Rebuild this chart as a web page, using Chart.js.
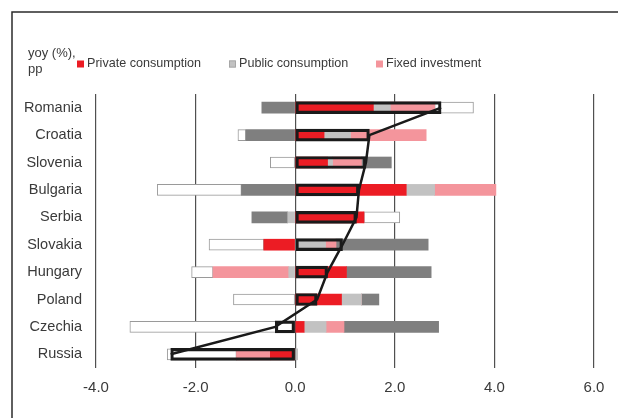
<!DOCTYPE html>
<html>
<head>
<meta charset="utf-8">
<script src="https://cdn.jsdelivr.net/npm/chart.js@4/dist/chart.umd.min.js"></script>
<style>
  html, body { margin: 0; padding: 0; background: #fff; }
  #wrap { width: 618px; height: 418px; position: relative; }
</style>
</head>
<body>
<div id="wrap"><canvas id="gdpChart" width="618" height="418"></canvas></div>
<script>
// contributions to GDP growth, yoy (%), pp
const countries = ['Romania', 'Croatia', 'Slovenia', 'Bulgaria', 'Serbia', 'Slovakia', 'Hungary', 'Poland', 'Czechia', 'Russia'];
const privateCons = [1.57, 0.58, 0.65, 2.23, 1.38, -0.63, 1.03, 0.93, 0.18, -0.50];
const publicCons = [0.34, 0.53, 0.10, 0.57, -0.15, 0.61, -0.13, 0.40, 0.44, 0.05];
const fixedInv = [0.89, 1.52, 0.58, 1.23, 0.00, 0.21, -1.52, 0.00, 0.36, -0.68];
const netExports = [-0.67, -0.99, 0.60, -1.08, -0.72, 1.85, 1.70, 0.35, 1.90, 0.00];
const inventories = [0.78, -0.16, -0.50, -1.69, 0.72, -1.10, -0.43, -1.24, -3.32, -1.39];
const gdpGrowth = [2.93, 1.49, 1.42, 1.28, 1.23, 0.95, 0.65, 0.44, -0.40, -2.50];
const xTicks = [-4, -2, 0, 2, 4, 6];

const FONT = 'Liberation Sans, Arial, sans-serif';

document.addEventListener('DOMContentLoaded', () => {
    function barSet(label, data, color, extra) {
        return Object.assign({
            type: 'bar',
            label: label,
            data: data,
            backgroundColor: color,
            borderWidth: 0,
            barThickness: 11,
            grouped: false,
            order: 2,
        }, extra || {});
    }

    // frame lines + "yoy (%), pp" note + legend (first three series only)
    const decorations = {
        id: 'decorations',
        beforeDraw(chart) {
            const ctx = chart.ctx;
            ctx.save();
            ctx.strokeStyle = '#2b2b2b';
            ctx.lineWidth = 1.5;
            ctx.beginPath();
            ctx.moveTo(12, 418);
            ctx.lineTo(12, 12);
            ctx.lineTo(618, 12);
            ctx.stroke();
            ctx.restore();
        },
        afterDraw(chart) {
            const ctx = chart.ctx;
            ctx.save();
            ctx.font = '13px ' + FONT;
            ctx.fillStyle = '#3a3a3a';
            ctx.textBaseline = 'middle';
            ctx.textAlign = 'left';
            ctx.fillText('yoy (%),', 28, 53);
            ctx.fillText('pp', 28, 69);

            ctx.font = '12.6px ' + FONT;
            const starts = [77, 229, 376];
            chart.data.datasets.slice(0, 3).forEach((ds, i) => {
                const x = starts[i];
                ctx.fillStyle = ds.backgroundColor;
                ctx.fillRect(x, 60.5, 7, 7);
                if (i === 1) {
                    ctx.strokeStyle = '#a0a0a0';
                    ctx.lineWidth = 0.8;
                    ctx.strokeRect(x + 0.4, 60.9, 6.2, 6.2);
                }
                ctx.fillStyle = '#3a3a3a';
                ctx.fillText(ds.label, x + 10, 64);
            });
            ctx.restore();
        }
    };

    const ctx = document.getElementById('gdpChart').getContext('2d');
    new Chart(ctx, {
        data: {
            labels: countries,
            datasets: [
                barSet('Private consumption', privateCons, '#ec1c24'),
                barSet('Public consumption', publicCons, '#c2c2c2'),
                barSet('Fixed investment', fixedInv, '#f4959c'),
                barSet('Net exports', netExports, '#7f7f7f'),
                barSet('Inventories', inventories, '#ffffff', {
                    borderColor: '#9a9a9a',
                    borderWidth: 1,
                    borderSkipped: false,
                }),
                barSet('GDP', gdpGrowth, 'rgba(0,0,0,0)', {
                    stack: 'total',
                    borderColor: '#1a1a1a',
                    borderWidth: 2.5,
                    borderSkipped: false,
                    barThickness: 12,
                    order: 1,
                }),
                {
                    type: 'line',
                    label: 'GDP line',
                    data: gdpGrowth,
                    borderColor: '#1a1a1a',
                    borderWidth: 2.5,
                    pointRadius: 0,
                    tension: 0,
                    fill: false,
                    order: 0,
                },
            ]
        },
        options: {
            indexAxis: 'y',
            responsive: false,
            animation: false,
            layout: { padding: { top: 94, right: 24, bottom: 0, left: 0 } },
            plugins: {
                legend: { display: false },
                tooltip: { enabled: false },
            },
            scales: {
                x: {
                    type: 'linear',
                    stacked: true,
                    min: -4,
                    max: 6,
                    afterBuildTicks: (scale) => {
                        scale.ticks = xTicks.map(v => ({ value: v }));
                    },
                    afterFit: (scale) => { scale.height = 50; },
                    grid: {
                        color: '#505050',
                        lineWidth: 1.2,
                        drawTicks: false,
                    },
                    border: { display: false },
                    ticks: {
                        padding: 11,
                        color: '#3a3a3a',
                        font: { family: FONT, size: 15 },
                        callback: (v) => Number(v).toFixed(1),
                    }
                },
                y: {
                    type: 'category',
                    stacked: true,
                    afterFit: (scale) => { scale.width = 96; },
                    grid: { display: false, drawTicks: false },
                    border: { display: false },
                    ticks: {
                        padding: 14,
                        color: '#3a3a3a',
                        font: { family: FONT, size: 14.5 },
                    }
                }
            }
        },
        plugins: [decorations]
    });
});
</script>
</body>
</html>
